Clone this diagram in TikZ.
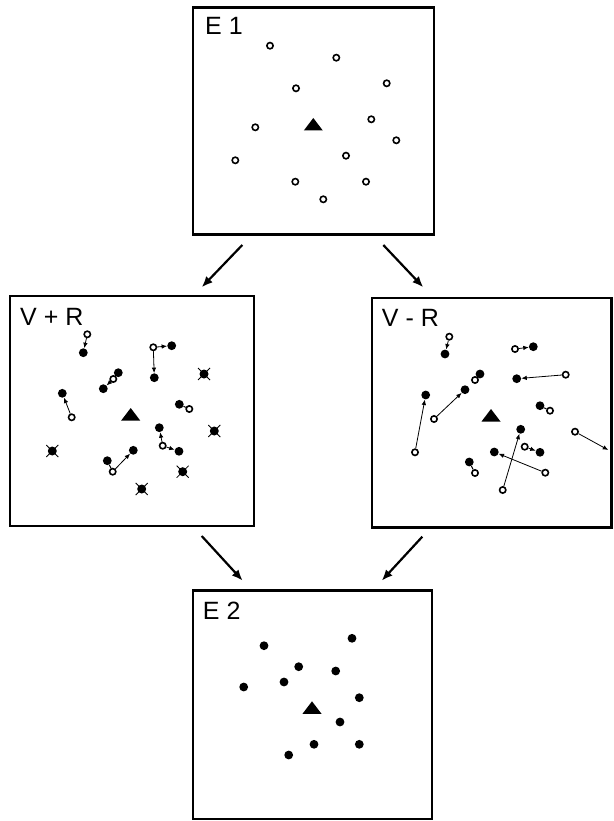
\documentclass[tikz,border=0pt]{standalone}
\usepackage{fontspec}
\setmainfont{Liberation Sans}
\usetikzlibrary{arrows.meta}
\tikzset{
 oc/.style={circle,draw,line width=1.6pt,fill=white,inner sep=0pt,minimum size=6.3pt},
 fc/.style={circle,fill,inner sep=0pt,minimum size=8.8pt},
 sa/.style={line width=0.8pt,-{Latex[length=5.5pt,width=4.5pt]}},
 sl/.style={line width=1pt},
 ba/.style={line width=2.2pt,-{Latex[length=11pt,width=9pt]}},
 panel/.style={line width=2.4pt},
 lbl/.style={anchor=base west,inner sep=0pt,font=\fontsize{25}{25}\selectfont},
 tri/.pic={\fill (-9.5,5.5)--(9.5,5.5)--(0,-7)--cycle;},
 xc/.pic={\fill (0,0) circle[radius=4.5pt];
          \draw[line width=0.8pt] (-6,-6)--(6,6) (-6,6)--(6,-6);}
}
\begin{document}
\begin{tikzpicture}[x=1pt,y=-1pt]
\useasboundingbox (0,0) rectangle (613,821);
\fill[white] (0,0) rectangle (613,821);
% panels
\draw[panel] (193,7.5) rectangle (434,234.5);
\draw[panel] (10,296) rectangle (254,526);
\draw[panel] (371.7,298) rectangle (611.5,527.3);
\draw[panel] (192.7,590.5) rectangle (432,819);
\node[lbl] (lE1) at (205,35) {E 1};
\node[lbl] (lVR) at (20,325) {V + R};
\node[lbl] (lVmR) at (381.7,326.7) {V - R};
\node[lbl] (lE2) at (202.7,619.3) {E 2};
% E1
\pic at (313.3,125) {tri};
\foreach \p [count=\i] in {(270,45.7),(336.3,57.7),(296,88.3),(386.7,83.3),(255.3,127.3),(371.3,119.3),(396.3,140.3),(235.3,160.3),(346,155.7),(295.3,181.7),(366,181.7),(323.3,199.3)}
  \node[oc] (e1\i) at \p {};
% E2
\pic at (312,708.3) {tri};
\foreach \p [count=\i] in {(264,645.7),(352,638.3),(298.7,666.7),(335.7,671),(284,682),(243.7,687),(359.3,697.7),(340,722),(314,744.3),(359.3,744.3),(288.7,755)}
  \node[fc] (e2\i) at \p {};
% V + R
\pic at (130.7,415) {tri};
\foreach \p in {(204,374),(214.3,431),(52.3,451),(182.7,471.7),(141.7,489)}
  \pic at \p {xc};
\node[fc] (p1f) at (83.3,352.7) {};
\node[oc] (p1o) at (87.3,334.3) {};
\node[fc] (p2a) at (171.7,345.7) {};
\node[fc] (p2b) at (154.3,377.7) {};
\node[oc] (p2o) at (153.3,347.3) {};
\node[fc] (p3g) at (118.3,372.7) {};
\node[fc] (p3f) at (103.3,388.7) {};
\node[oc] (p3o) at (113.3,379) {};
\node[fc] (p4f) at (62.3,393.3) {};
\node[oc] (p4o) at (71.7,417.3) {};
\node[fc] (p5f) at (179.3,404.3) {};
\node[oc] (p5o) at (189.3,409) {};
\node[fc] (p6a) at (159.3,427.7) {};
\node[fc] (p6b) at (179,451.3) {};
\node[oc] (p6o) at (162.7,445.7) {};
\node[fc] (p7a) at (133.3,450.3) {};
\node[fc] (p7b) at (107.3,460.7) {};
\node[oc] (p7o) at (112.7,471.7) {};
\draw[sa] (p1o) -- (p1f);
\draw[sa] (p2o) -- (p2a);
\draw[sa] (p2o) -- (p2b);
\draw[sa] (p3o) -- (p3f);
\draw[sa] (p4o) -- (p4f);
\draw[sl] (p5o) -- (p5f);
\draw[sa] (p6o) -- (p6a);
\draw[sa] (p6o) -- (p6b);
\draw[sa] (p7o) -- (p7a);
\draw[sl] (p7o) -- (p7b);
% V - R
\pic at (491,416) {tri};
\node[fc] (q1f) at (445,354) {};
\node[oc] (q1o) at (449.3,336.7) {};
\node[fc] (q2f) at (533.3,346.7) {};
\node[oc] (q2o) at (515,349) {};
\node[fc] (q3f) at (480,374) {};
\node[oc] (q3o) at (475,380) {};
\node[fc] (q4f) at (516.7,378.7) {};
\node[oc] (q4o) at (565.7,374.7) {};
\node[fc] (q5f) at (425.7,395) {};
\node[oc] (q5o) at (415,452.3) {};
\node[fc] (q6f) at (465,389.7) {};
\node[oc] (q6o) at (434,419) {};
\node[fc] (q7f) at (540,405.7) {};
\node[oc] (q7o) at (550,410.7) {};
\node[oc] (q8o) at (575,431.7) {};
\coordinate (q8e) at (608.3,450);
\node[fc] (q9f) at (520.7,429.3) {};
\node[oc] (q9o) at (502.7,490) {};
\node[fc] (q10f) at (540,452.3) {};
\node[oc] (q10o) at (524.7,446.7) {};
\node[fc] (q11f) at (494.3,452) {};
\node[oc] (q11o) at (545.3,472.7) {};
\node[fc] (q12f) at (469.3,462) {};
\node[oc] (q12o) at (475,473) {};
\draw[sa] (q1o) -- (q1f);
\draw[sa] (q2o) -- (q2f);
\draw[sl] (q3o) -- (q3f);
\draw[sa] (q4o) -- (q4f);
\draw[sa] (q5o) -- (q5f);
\draw[sa] (q6o) -- (q6f);
\draw[sl] (q7o) -- (q7f);
\draw[sa] (q8o) -- (q8e);
\draw[sa] (q9o) -- (q9f);
\draw[sa] (q10o) -- (q10f);
\draw[sa] (q11o) -- (q11f);
\draw[sl] (q12o) -- (q12f);
% big arrows
\coordinate (a1s) at (242.3,245); \coordinate (a1e) at (201.7,287.3);
\coordinate (a2s) at (383.3,245); \coordinate (a2e) at (423.3,287.3);
\coordinate (a3s) at (201.7,536); \coordinate (a3e) at (242.7,580.7);
\coordinate (a4s) at (422.3,536.7); \coordinate (a4e) at (381.7,580.7);
\draw[ba] (a1s) -- (a1e);
\draw[ba] (a2s) -- (a2e);
\draw[ba] (a3s) -- (a3e);
\draw[ba] (a4s) -- (a4e);
\end{tikzpicture}
\end{document}
